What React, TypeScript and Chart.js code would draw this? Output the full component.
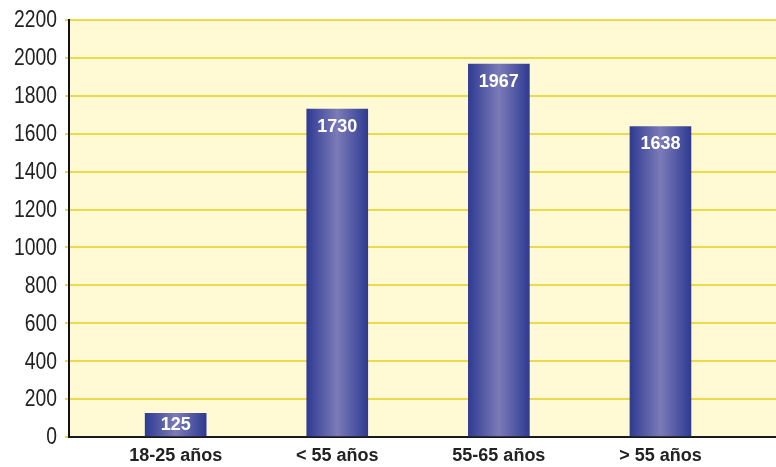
import { useEffect, useRef } from 'react';
import { Chart, registerables } from 'chart.js';

Chart.register(...registerables);

const categories = ['18-25 años', '< 55 años', '55-65 años', '> 55 años'];
const values = [125, 1730, 1967, 1638];
const yTicks = [0, 200, 400, 600, 800, 1000, 1200, 1400, 1600, 1800, 2000, 2200];

const FONT = "'Liberation Sans', Arial, Helvetica, sans-serif";

export default function App() {
  const ref = useRef<HTMLCanvasElement>(null);

  useEffect(() => {
    document.body.style.margin = '0';
    const canvas = ref.current!;

    const bgPlugin = {
      id: 'plotBg',
      beforeDraw(chart: any) {
        const { ctx, chartArea: a } = chart;
        ctx.save();
        ctx.fillStyle = '#fffad4';
        ctx.fillRect(a.left, a.top, a.right - a.left, a.bottom - a.top);
        ctx.restore();
      },
    };

    // condensed y tick labels, positioned from the y scale
    const yLabelPlugin = {
      id: 'yLabels',
      afterDraw(chart: any) {
        const { ctx } = chart;
        const ys = chart.scales.y;
        ctx.save();
        ctx.fillStyle = '#222222';
        ctx.font = `23px ${FONT}`;
        ctx.textAlign = 'right';
        ctx.textBaseline = 'middle';
        ys.ticks.forEach((t: any) => {
          const y = ys.getPixelForValue(t.value);
          ctx.save();
          ctx.translate(ys.right - 12, y + 1);
          ctx.scale(0.84, 1);
          ctx.fillText(String(t.value), 0, 0);
          ctx.restore();
        });
        ctx.restore();
      },
    };

    const valuePlugin = {
      id: 'valueLabels',
      afterDatasetsDraw(chart: any) {
        const { ctx } = chart;
        const meta = chart.getDatasetMeta(0);
        ctx.save();
        ctx.fillStyle = '#ffffff';
        ctx.font = `bold 18px ${FONT}`;
        ctx.textAlign = 'center';
        ctx.textBaseline = 'middle';
        meta.data.forEach((bar: any, i: number) => {
          const h = bar.base - bar.y;
          ctx.fillText(String(values[i]), bar.x, bar.y + Math.min(18, h / 2));
        });
        ctx.restore();
      },
    };

    const chart = new Chart(canvas, {
      type: 'bar',
      data: {
        datasets: [
          {
            data: values.map((v, i) => ({ x: i, y: v })) as any,
            barThickness: 61,
            borderWidth: 0,
            backgroundColor: (c: any) => {
              const ch = c.chart;
              if (!ch.chartArea || c.dataIndex === undefined) return '#3a4596';
              const cx = ch.scales.x.getPixelForValue(c.dataIndex);
              const g = ch.ctx.createLinearGradient(cx - 30.5, 0, cx + 30.5, 0);
              g.addColorStop(0, '#2f3b92');
              g.addColorStop(0.5, '#7c7bb8');
              g.addColorStop(1, '#2f3b92');
              return g;
            },
          },
        ],
      },
      options: {
        animation: false,
        responsive: false,
        maintainAspectRatio: false,
        layout: { padding: { top: 20, right: 0, left: 0, bottom: 0 } },
        plugins: { legend: { display: false }, tooltip: { enabled: false } },
        scales: {
          x: {
            type: 'linear',
            offset: false,
            min: -0.66,
            max: 3.715,
            afterBuildTicks: (s: any) => {
              s.ticks = categories.map((_, i) => ({ value: i }));
            },
            afterFit: (s: any) => {
              s.height = 30;
            },
            ticks: {
              callback: (v: any) => categories[Math.round(Number(v))] ?? '',
              font: { family: FONT, size: 18, weight: 'bold' },
              color: '#222222',
              padding: 0,
              autoSkip: false,
              maxRotation: 0,
            },
            grid: { display: false },
            border: { display: true, color: '#1a1a1a', width: 2 },
          },
          y: {
            min: 0,
            max: 2200,
            afterBuildTicks: (s: any) => {
              s.ticks = yTicks.map((v) => ({ value: v }));
            },
            afterFit: (s: any) => {
              s.width = 69;
            },
            ticks: {
              display: false,
            },
            grid: { color: '#ecd94c', lineWidth: 2, tickLength: 4 },
            border: { color: '#111111', width: 2 },
          },
        },
      } as any,
      plugins: [bgPlugin, valuePlugin, yLabelPlugin],
    });

    return () => chart.destroy();
  }, []);

  return <canvas ref={ref} width={776} height={467} style={{ display: 'block' }} />;
}
